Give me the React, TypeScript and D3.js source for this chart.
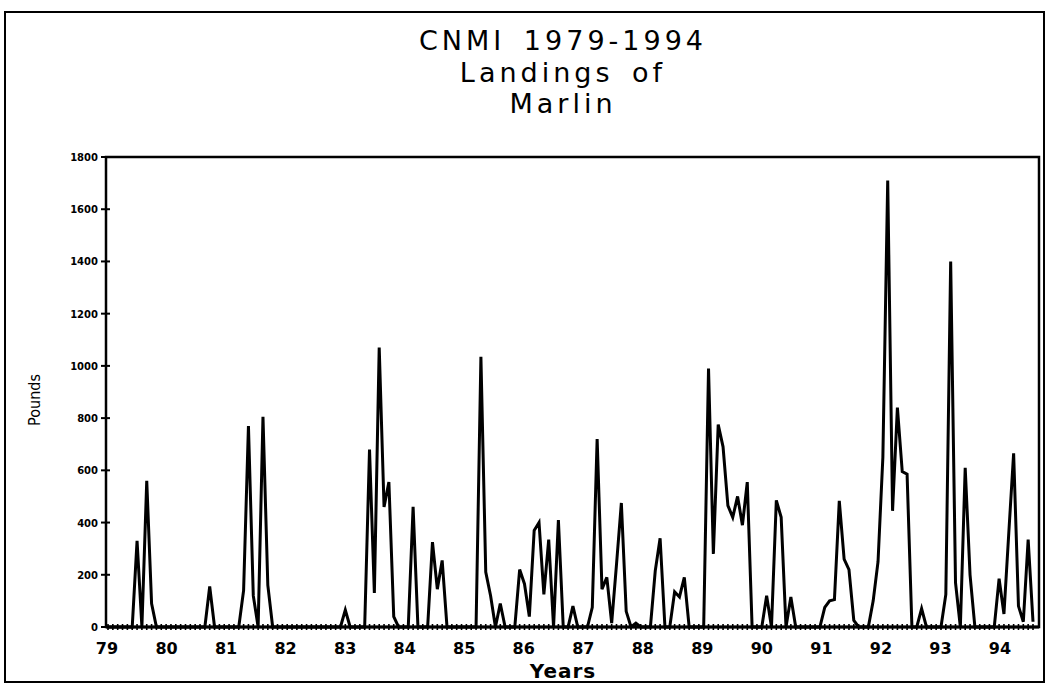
import React from 'react';
import * as d3 from 'd3';

const years = ['79', '80', '81', '82', '83', '84', '85', '86', '87', '88', '89', '90', '91', '92', '93', '94'];

// monthly landings (pounds), one row per year, Jan..Dec
const y1979 = [0, 0, 0, 0, 0, 0, 330, 0, 560, 90, 0, 0];
const y1980 = [0, 0, 0, 0, 0, 0, 0, 0, 0, 155, 0, 0];
const y1981 = [0, 0, 0, 0, 140, 770, 120, 0, 805, 160, 0, 0];
const y1982 = [0, 0, 0, 0, 0, 0, 0, 0, 0, 0, 0, 0];
const y1983 = [0, 65, 0, 0, 0, 0, 680, 130, 1070, 460, 555, 40];
const y1984 = [0, 0, 0, 460, 0, 0, 0, 325, 145, 255, 0, 0];
const y1985 = [0, 0, 0, 0, 0, 1035, 210, 120, 0, 90, 0, 0];
const y1986 = [0, 220, 165, 40, 370, 400, 125, 335, 0, 410, 0, 0];
const y1987 = [80, 0, 0, 0, 75, 720, 145, 190, 15, 240, 475, 60];
const y1988 = [0, 15, 0, 0, 0, 215, 340, 0, 0, 135, 115, 190];
const y1989 = [0, 0, 0, 0, 990, 280, 775, 690, 465, 420, 500, 390];
const y1990 = [555, 0, 0, 0, 120, 0, 485, 420, 0, 115, 0, 0];
const y1991 = [0, 0, 0, 0, 75, 100, 105, 483, 260, 220, 25, 0];
const y1992 = [0, 0, 100, 250, 650, 1710, 445, 840, 595, 585, 0, 0];
const y1993 = [70, 0, 0, 0, 0, 125, 1400, 170, 0, 610, 200, 0];
const y1994 = [0, 0, 0, 0, 185, 50, 360, 665, 80, 20, 335, 20];

const landings = [
  ...y1979, ...y1980, ...y1981, ...y1982, ...y1983, ...y1984, ...y1985, ...y1986,
  ...y1987, ...y1988, ...y1989, ...y1990, ...y1991, ...y1992, ...y1993, ...y1994,
];

const yTicks = [0, 200, 400, 600, 800, 1000, 1200, 1400, 1600, 1800];

const W = 1045;
const H = 687;
const plot = { left: 106, right: 1039, top: 157, bottom: 627 };

const App: React.FC = () => {
  const x = d3.scaleLinear().domain([0, landings.length - 1]).range([108, 1033]);
  const y = d3.scaleLinear().domain([0, 1800]).range([plot.bottom, plot.top]);
  // the year labels in the original sit on a slightly wider pitch than the months
  const xLabel = d3.scaleLinear().domain([0, years.length - 1]).range([107, 1000]);

  const line = d3
    .line<number>()
    .x((_, i) => x(i))
    .y((d) => y(d));

  const cx = 563;

  return (
    <svg
      width={W}
      height={H}
      style={{ position: 'absolute', left: 0, top: 0, background: '#fff' }}
    >
      {/* outer frame */}
      <rect x={5} y={12} width={1039} height={670} fill="none" stroke="#000" strokeWidth={2} />

      {/* title */}
      <g
        fontFamily="'DejaVu Sans', sans-serif"
        fontSize={27}
        textAnchor="middle"
        fill="#000"
        letterSpacing={4}
        wordSpacing={6}
      >
        <text x={cx} y={50}>CNMI 1979-1994</text>
        <text x={cx} y={82}>Landings of</text>
        <text x={cx} y={113}>Marlin</text>
      </g>

      {/* plot box */}
      <rect
        x={plot.left}
        y={plot.top}
        width={plot.right - plot.left}
        height={plot.bottom - plot.top}
        fill="none"
        stroke="#000"
        strokeWidth={2.5}
      />

      {/* y ticks */}
      <g fontFamily="'DejaVu Sans', sans-serif" fontWeight="bold" fontSize={10} textAnchor="end">
        {yTicks.map((t) => (
          <g key={t}>
            <line x1={plot.left - 5} x2={plot.left + 4} y1={y(t)} y2={y(t)} stroke="#000" strokeWidth={2} />
            <text x={plot.left - 8} y={y(t) + 4}>{t}</text>
          </g>
        ))}
      </g>

      {/* monthly ticks on x axis */}
      <g>
        {landings.map((_, i) => (
          <line key={i} x1={x(i)} x2={x(i)} y1={plot.bottom - 3} y2={plot.bottom + 3} stroke="#000" strokeWidth={1.6} />
        ))}
        <line x1={plot.left} x2={plot.right} y1={plot.bottom} y2={plot.bottom} stroke="#000" strokeWidth={3} />
      </g>

      {/* x labels */}
      <g fontFamily="'DejaVu Sans', sans-serif" fontWeight="bold" fontSize={16} textAnchor="middle">
        {years.map((yr, k) => (
          <text key={yr} x={xLabel(k)} y={654}>{yr}</text>
        ))}
      </g>

      <text x={cx} y={678} fontFamily="'DejaVu Sans', sans-serif" fontWeight="bold" fontSize={20} textAnchor="middle" letterSpacing={1}>
        Years
      </text>

      <text
        transform="translate(40,400) rotate(-90)"
        fontFamily="'Liberation Sans Narrow', 'DejaVu Sans Condensed', sans-serif"
        fontSize={16}
        textAnchor="middle"
      >
        Pounds
      </text>

      {/* data line */}
      <path d={line(landings) ?? ''} fill="none" stroke="#000" strokeWidth={3} strokeLinejoin="miter" />
    </svg>
  );
};

export default App;
